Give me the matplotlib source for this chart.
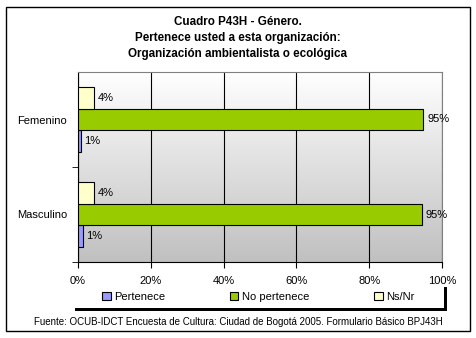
import numpy as np
import matplotlib.pyplot as plt
from matplotlib.patches import Rectangle

plt.rcParams['font.family'] = ['Liberation Sans', 'DejaVu Sans']

categorias = ["Masculino", "Femenino"]
series = ["Pertenece", "No pertenece", "Ns/Nr"]
pertenece = [1.3, 0.8]
no_pertenece = [94.4, 94.9]
ns_nr = [4.3, 4.3]
etiquetas = {
    "Pertenece": ["1%", "1%"],
    "No pertenece": ["95%", "95%"],
    "Ns/Nr": ["4%", "4%"],
}
colores = ["#9999FF", "#99CC00", "#FFFFCC"]
ticks_x = [0, 20, 40, 60, 80, 100]

W, H = 476, 338
fig = plt.figure(figsize=(W / 100, H / 100), dpi=100)

# outer frame
fig.patches.append(Rectangle((6 / W, 7 / H), 464 / W, 324 / H, transform=fig.transFigure,
                             fill=False, edgecolor="black", linewidth=1))

ax = fig.add_axes([78 / W, 1 - 262 / H, 364 / W, 190 / H])

# gradient background
grad = np.linspace(0, 1, 256).reshape(-1, 1)
ax.imshow(grad, cmap=plt.matplotlib.colors.LinearSegmentedColormap.from_list(
    "g", ["#C0C0C0", "#FFFFFF"]), aspect="auto", extent=[0, 100, -0.5, 1.5],
    origin="lower", zorder=0)

y = np.arange(len(categorias))
h = 0.225
valores = [pertenece, no_pertenece, ns_nr]
for i, (nombre, vals, col) in enumerate(zip(series, valores, colores)):
    pos = y + (i - 1) * h
    ax.barh(pos, vals, height=h, color=col, edgecolor="black", linewidth=0.8,
            label=nombre, zorder=3)
    for p, v, t in zip(pos, vals, etiquetas[nombre]):
        ax.text(v + 1, p, t, va="center", ha="left", fontsize=8, zorder=4)

ax.set_xlim(0, 100)
ax.set_ylim(-0.5, 1.5)
ax.set_xticks(ticks_x)
ax.set_xticklabels([f"{t}%" for t in ticks_x], fontsize=8)
ax.set_yticks(y)
ax.set_yticklabels(categorias, fontsize=8)
ax.tick_params(axis="y", length=0, pad=8)
ax.set_yticks([-0.5, 0.5], minor=True)
ax.tick_params(axis="y", which="minor", length=4, direction="out")
ax.tick_params(axis="x", length=4, direction="out", pad=6)
ax.grid(axis="x", color="black", linewidth=0.8, zorder=1)
for s in ["top", "right"]:
    ax.spines[s].set_color("#808080")
for s in ["left", "bottom"]:
    ax.spines[s].set_color("black")

fig.text(0.5, 1 - 22 / H, "Cuadro P43H - Género.", ha="center", va="center",
         fontsize=8.4, fontweight="bold")
fig.text(0.5, 1 - 38 / H, "Pertenece usted a esta organización:", ha="center",
         va="center", fontsize=8.4, fontweight="bold")
fig.text(0.5, 1 - 54 / H, "Organización ambientalista o ecológica", ha="center",
         va="center", fontsize=8.4, fontweight="bold")

# legend with shadow
fig.patches.append(Rectangle((75 / W, 1 - 311 / H), 372 / W, 24 / H, transform=fig.transFigure,
                             facecolor="black", edgecolor="none"))
fig.patches.append(Rectangle((72 / W, 1 - 308 / H), 372 / W, 24 / H, transform=fig.transFigure,
                             facecolor="white", edgecolor="none"))
handles, labels = ax.get_legend_handles_labels()
leg = fig.legend(handles, labels, loc="center", bbox_to_anchor=(258 / W, 1 - 297 / H),
                 ncol=3, frameon=False, fontsize=8, handlelength=0.8, handleheight=0.8,
                 handletextpad=0.3, columnspacing=5.8)

fig.text(0.5, 1 - 322 / H,
         "Fuente: OCUB-IDCT Encuesta de Cultura: Ciudad de Bogotá 2005. Formulario Básico BPJ43H",
         ha="center", va="center", fontsize=7.0)

fig.savefig("out.png", dpi=100)
